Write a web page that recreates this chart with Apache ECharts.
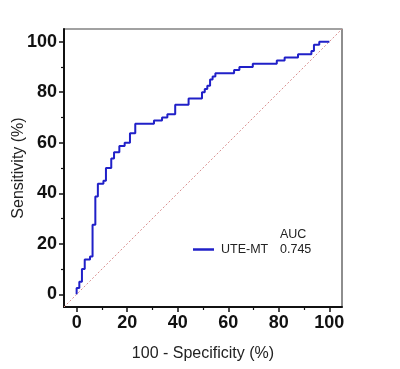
<!DOCTYPE html>
<html>
<head>
<meta charset="utf-8">
<script src="https://cdn.jsdelivr.net/npm/echarts@6/dist/echarts.min.js"></script>
<style>
html,body{margin:0;padding:0;background:#fff;}
#c{width:400px;height:369px;}
</style>
</head>
<body>
<div id="c"></div>
<script>
// ROC curve (step corners), in %
var fpr = [0, 0, 1.06, 2.1, 3.2, 5.3, 6.3, 7.4, 8.4, 10.6, 11.6, 13.7, 14.8, 16.9, 19.0, 21.1, 23.2, 30.6, 33.8, 35.9, 39.0, 44.3, 49.6, 50.7, 51.7, 52.8, 53.8, 54.9, 62.3, 64.4, 69.7, 79.2, 82.3, 87.6, 92.9, 93.9, 96.0, 100];
var tpr = [0, 2.5, 5, 10, 13.75, 15, 27.5, 38.75, 43.75, 45, 50, 53.75, 56.25, 58.75, 60, 63.75, 67.5, 68.75, 70, 71.25, 75, 77.5, 80, 81.25, 82.5, 85, 86.25, 87.5, 88.75, 90, 91.25, 92.5, 93.75, 95, 96.25, 98.75, 100, 100];
var seriesName = 'UTE-MT';
var aucLabel = 'AUC';
var aucValue = '0.745';
var refLine = [-5, 105];
var majorTicks = [0, 20, 40, 60, 80, 100];
var minorTicks = [10, 30, 50, 70, 90];
var xTitle = '100 - Specificity (%)';
var yTitle = 'Sensitivity (%)';

var FONT = '"Liberation Sans", Arial, Helvetica, sans-serif';
var rocData = fpr.map(function (x, i) { return [x, tpr[i]]; });
var refData = refLine.map(function (v) { return [v, v]; });

function mainAxis(name, isX) {
  return {
    type: 'value', min: -5, max: 105,
    position: isX ? 'bottom' : 'left',
    name: name, nameLocation: 'middle', nameGap: isX ? 39 : 37, nameMoveOverlap: false,
    nameTextStyle: { fontFamily: FONT, fontSize: 16, color: '#222' },
    axisLine: { show: true, onZero: false, lineStyle: { color: '#111', width: 2 } },
    axisTick: { show: true, customValues: majorTicks, length: 5, lineStyle: { color: '#111', width: 1.5 } },
    axisLabel: { show: true, customValues: majorTicks, margin: 7, fontFamily: FONT, fontSize: 18, fontWeight: 'bold', color: '#111' },
    splitLine: { show: false }
  };
}
function minorAxis(isX) {
  return {
    type: 'value', min: -5, max: 105,
    position: isX ? 'bottom' : 'left',
    axisLine: { show: false, onZero: false },
    axisTick: { show: true, customValues: minorTicks, length: 3, lineStyle: { color: '#111', width: 1.2 } },
    axisLabel: { show: false },
    splitLine: { show: false }
  };
}

var chart = echarts.init(document.getElementById('c'), null, { renderer: 'canvas' });
chart.setOption({
  animation: false,
  backgroundColor: '#fff',
  grid: { left: 64, top: 29, width: 278, height: 278, containLabel: false, outerBoundsMode: 'none', show: true, borderColor: '#444', borderWidth: 1.2, backgroundColor: 'transparent' },
  xAxis: [mainAxis(xTitle, true), minorAxis(true)],
  yAxis: [mainAxis(yTitle, false), minorAxis(false)],
  legend: {
    data: [seriesName], left: 193, top: 243, padding: 0,
    icon: 'rect', itemWidth: 21, itemHeight: 2.5,
    textStyle: { fontFamily: FONT, fontSize: 12.5, color: '#222', padding: [0, 0, 0, 2] }
  },
  graphic: [
    { type: 'text', left: 280, top: 228, style: { text: aucLabel, font: '12.5px ' + FONT, fill: '#222' } },
    { type: 'text', left: 280, top: 243, style: { text: aucValue, font: '12.5px ' + FONT, fill: '#222' } }
  ],
  series: [
    {
      name: 'ref', type: 'line', data: refData, xAxisIndex: 0, yAxisIndex: 0,
      symbol: 'none', lineStyle: { color: '#d99090', width: 1, type: [2, 2] }, silent: true, z: 1
    },
    {
      name: seriesName, type: 'line', data: rocData, xAxisIndex: 0, yAxisIndex: 0,
      step: 'end', symbol: 'none', itemStyle: { color: '#2020c8' },
      lineStyle: { color: '#2020c8', width: 2 }, z: 3
    }
  ]
});
</script>
</body>
</html>
